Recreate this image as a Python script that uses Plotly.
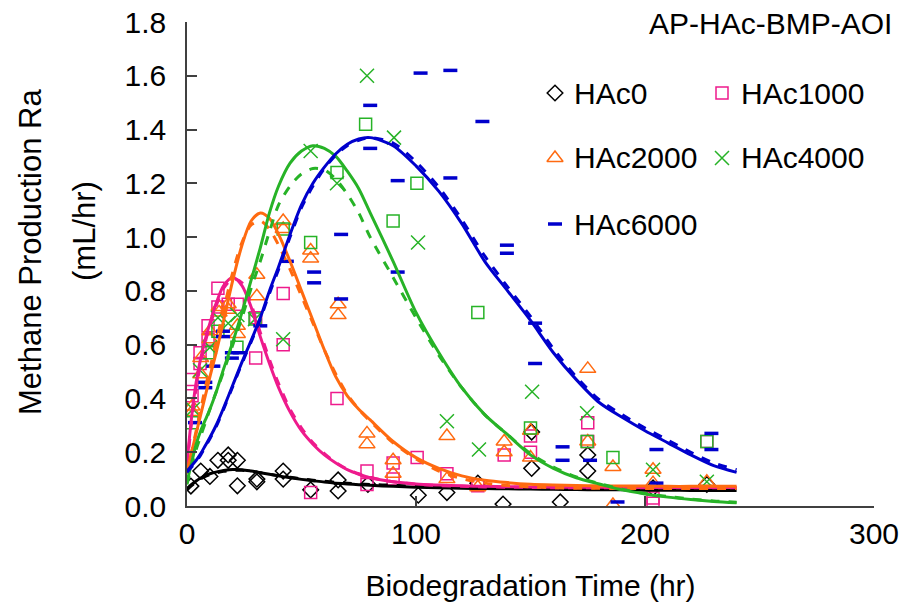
import plotly.graph_objects as go

hac0_x = [1.7, 6, 10, 13.5, 18, 18, 22, 22, 30.5, 30.5, 42, 42, 54, 66, 66, 79, 101, 113.5, 127, 138, 150.5, 150.5, 163, 175, 175, 203.5, 227]
hac0_y = [0.074, 0.13, 0.11, 0.17, 0.19, 0.17, 0.17, 0.075, 0.10, 0.09, 0.13, 0.10, 0.06, 0.097, 0.056, 0.08, 0.04, 0.05, 0.085, 0.007, 0.14, 0.275, 0.015, 0.19, 0.13, 0.067, 0.08]

hac1000_x = [2.2, 2.2, 5.7, 5.7, 9.2, 9.2, 13.5, 13.5, 18, 22, 30, 30, 42, 42, 54, 65.5, 78.6, 78.6, 90, 90, 100.5, 113.5, 127, 138.5, 150, 150, 175, 175, 203.5, 203.5, 227]
hac1000_y = [0.47, 0.41, 0.57, 0.53, 0.67, 0.62, 0.81, 0.74, 0.75, 0.75, 0.55, 0.70, 0.79, 0.60, 0.05, 0.40, 0.13, 0.08, 0.16, 0.10, 0.18, 0.12, 0.075, 0.19, 0.26, 0.20, 0.31, 0.24, 0.03, 0.01, 0.24]

hac2000_x = [2.2, 2.2, 6, 6, 10, 10, 14, 14, 18, 18, 22, 22, 30.5, 30.5, 42, 42, 54, 54, 66, 66, 78.6, 78.6, 90, 90, 113.5, 113.5, 127, 138.5, 138.5, 150, 150, 175, 175, 186, 186, 203.5, 203.5, 227]
hac2000_y = [0.37, 0.35, 0.55, 0.49, 0.65, 0.62, 0.74, 0.72, 0.75, 0.73, 0.67, 0.64, 0.86, 0.78, 1.06, 1.03, 0.95, 0.92, 0.75, 0.71, 0.27, 0.23, 0.17, 0.12, 0.26, 0.10, 0.07, 0.24, 0.20, 0.28, 0.18, 0.51, 0.24, 0.145, 0.004, 0.135, 0.085, 0.09]

hac4000_x = [2.6, 5.7, 10, 13.5, 18, 22, 29.7, 42, 54, 65.5, 78.6, 90.4, 100.9, 113.5, 127.5, 150.7, 174.7, 203.5, 227]
hac4000_y = [0.36, 0.505, 0.59, 0.70, 0.68, 0.71, 0.695, 0.62, 1.32, 1.20, 1.60, 1.37, 0.98, 0.315, 0.21, 0.425, 0.345, 0.135, 0.09]

hac4000b_x = [2.2, 9.2, 13.5, 21.8, 29.7, 42, 54, 65.5, 78, 90, 100.4, 127, 150, 174.7, 186, 227]
hac4000b_y = [0.31, 0.57, 0.65, 0.59, 0.695, 1.03, 0.98, 1.24, 1.42, 1.06, 1.20, 0.72, 0.29, 0.24, 0.18, 0.24]

hac6000_x = [3.5, 8, 8, 11.5, 15.7, 15.7, 19.6, 19.6, 23, 32, 43.6, 55.5, 55.5, 67.3, 67.3, 80, 80, 92, 92, 102, 115, 115, 129, 139.7, 139.7, 152, 152, 164, 164, 176, 188, 205, 205, 229, 229]
hac6000_y = [0.31, 0.46, 0.44, 0.52, 0.65, 0.63, 0.57, 0.55, 0.57, 0.67, 0.91, 0.87, 0.83, 1.01, 0.77, 1.49, 1.33, 1.21, 0.87, 1.61, 1.62, 1.22, 1.43, 0.97, 0.94, 0.68, 0.53, 0.22, 0.17, 0.17, 0.015, 0.21, 0.085, 0.27, 0.21]

# fitted model curves
curve_x = [0, 2, 4, 6, 8, 10, 13, 16, 20, 24, 28, 32, 36, 40, 45, 50, 55, 60, 65, 70, 75, 80, 90, 100, 110, 120, 130, 140, 150, 160, 170, 180, 190, 200, 210, 220, 230, 240]

fit0_solid = [0.065, 0.08, 0.093, 0.104, 0.113, 0.12, 0.127, 0.132, 0.136, 0.135, 0.13, 0.124, 0.118, 0.112, 0.105, 0.099, 0.094, 0.089, 0.085, 0.082, 0.079, 0.077, 0.073, 0.07, 0.068, 0.066, 0.065, 0.064, 0.063, 0.062, 0.061, 0.06, 0.06, 0.059, 0.059, 0.058, 0.058, 0.058]
fit0_dash = [0.06, 0.076, 0.09, 0.101, 0.11, 0.117, 0.124, 0.129, 0.133, 0.133, 0.129, 0.124, 0.118, 0.113, 0.107, 0.101, 0.096, 0.092, 0.088, 0.085, 0.082, 0.08, 0.077, 0.074, 0.072, 0.071, 0.07, 0.069, 0.068, 0.068, 0.067, 0.067, 0.067, 0.066, 0.066, 0.066, 0.066, 0.066]

fit1000_solid = [0.16, 0.33, 0.46, 0.55, 0.62, 0.68, 0.76, 0.82, 0.85, 0.82, 0.74, 0.63, 0.53, 0.44, 0.35, 0.28, 0.23, 0.19, 0.16, 0.135, 0.118, 0.105, 0.09, 0.082, 0.078, 0.075, 0.073, 0.072, 0.071, 0.07, 0.07, 0.07, 0.069, 0.069, 0.069, 0.069, 0.069, 0.069]
fit1000_dash = [0.15, 0.31, 0.44, 0.53, 0.61, 0.67, 0.75, 0.81, 0.845, 0.83, 0.75, 0.645, 0.545, 0.455, 0.36, 0.29, 0.235, 0.195, 0.162, 0.137, 0.12, 0.106, 0.09, 0.081, 0.076, 0.073, 0.071, 0.07, 0.069, 0.068, 0.068, 0.068, 0.068, 0.068, 0.068, 0.068, 0.068, 0.068]

fit2000_solid = [0.13, 0.2, 0.27, 0.34, 0.41, 0.48, 0.58, 0.69, 0.84, 0.97, 1.06, 1.09, 1.07, 1.01, 0.91, 0.80, 0.69, 0.58, 0.48, 0.41, 0.36, 0.32, 0.24, 0.18, 0.14, 0.112, 0.096, 0.087, 0.081, 0.078, 0.076, 0.075, 0.074, 0.074, 0.073, 0.073, 0.073, 0.073]
fit2000_dash = [0.12, 0.2, 0.28, 0.36, 0.44, 0.51, 0.62, 0.73, 0.87, 0.98, 1.045, 1.06, 1.03, 0.97, 0.88, 0.78, 0.68, 0.58, 0.49, 0.415, 0.36, 0.315, 0.235, 0.175, 0.13, 0.102, 0.085, 0.076, 0.071, 0.068, 0.066, 0.066, 0.065, 0.065, 0.065, 0.065, 0.065, 0.065]

fit4000_solid = [0.09, 0.16, 0.23, 0.28, 0.32, 0.36, 0.43, 0.51, 0.61, 0.72, 0.84, 0.96, 1.09, 1.19, 1.275, 1.32, 1.34, 1.33, 1.30, 1.245, 1.18, 1.09, 0.91, 0.72, 0.57, 0.44, 0.34, 0.265, 0.19, 0.14, 0.105, 0.082, 0.06, 0.045, 0.033, 0.024, 0.017, 0.012]
fit4000_dash = [0.08, 0.15, 0.21, 0.26, 0.31, 0.36, 0.43, 0.5, 0.6, 0.7, 0.81, 0.91, 1.02, 1.12, 1.19, 1.235, 1.255, 1.25, 1.215, 1.16, 1.09, 1.0, 0.85, 0.7, 0.56, 0.44, 0.34, 0.265, 0.195, 0.145, 0.108, 0.084, 0.062, 0.047, 0.035, 0.026, 0.019, 0.014]

fit6000_solid = [0.13, 0.15, 0.17, 0.195, 0.225, 0.255, 0.305, 0.365, 0.45, 0.535, 0.615, 0.70, 0.80, 0.89, 1.01, 1.12, 1.2, 1.26, 1.31, 1.345, 1.365, 1.37, 1.34, 1.265, 1.17, 1.05, 0.91, 0.80, 0.69, 0.57, 0.47, 0.385, 0.33, 0.28, 0.235, 0.19, 0.15, 0.125]
fit6000_dash = [0.125, 0.145, 0.165, 0.19, 0.22, 0.25, 0.30, 0.36, 0.445, 0.53, 0.61, 0.695, 0.79, 0.88, 1.0, 1.11, 1.19, 1.255, 1.305, 1.34, 1.36, 1.37, 1.35, 1.28, 1.185, 1.065, 0.93, 0.815, 0.705, 0.585, 0.48, 0.395, 0.34, 0.29, 0.245, 0.2, 0.16, 0.135]

series_names = ["HAc0", "HAc1000", "HAc2000", "HAc4000", "HAc6000"]
x_ticks = [0, 100, 200, 300]
y_ticks = [0.0, 0.2, 0.4, 0.6, 0.8, 1.0, 1.2, 1.4, 1.6, 1.8]

# ---------------- styling ----------------
FONT = "Liberation Sans, Arial, sans-serif"
FS = 30
C_BLACK = "#000000"
C_PINK = "#EE1A8C"
C_ORANGE = "#FF6A10"
C_GREEN = "#27B327"
C_BLUE = "#0000CC"

fig = go.Figure()

def add_markers(x, y, name, symbol, color, size, lw=1.5, show=False):
    fig.add_trace(go.Scatter(x=x, y=y, mode="markers", name=name, showlegend=show,
                             marker=dict(symbol=symbol, size=size, color=color,
                                         line=dict(color=color, width=lw))))

add_markers(hac0_x, hac0_y, "HAc0", "diamond-open", C_BLACK, 12)
add_markers(hac1000_x, hac1000_y, "HAc1000", "square-open", C_PINK, 12)
add_markers(hac2000_x, hac2000_y, "HAc2000", "triangle-up-open", C_ORANGE, 14)
add_markers(hac4000b_x, hac4000b_y, "HAc4000 rep", "square-open", C_GREEN, 12)
add_markers(hac4000_x, hac4000_y, "HAc4000", "x-thin-open", C_GREEN, 14)
add_markers(hac6000_x, hac6000_y, "HAc6000", "line-ew-open", C_BLUE, 10, lw=3.5)

def add_curve(y, color, dash):
    fig.add_trace(go.Scatter(x=curve_x, y=y, mode="lines", showlegend=False, hoverinfo="skip",
                             line=dict(color=color, width=3, dash=dash, shape="spline", smoothing=0.8)))

for ys, yd, c in [(fit0_solid, fit0_dash, C_BLACK), (fit1000_solid, fit1000_dash, C_PINK),
                  (fit2000_solid, fit2000_dash, C_ORANGE), (fit4000_solid, fit4000_dash, C_GREEN),
                  (fit6000_solid, fit6000_dash, C_BLUE)]:
    add_curve(yd, c, "dash")
    add_curve(ys, c, "solid")

# ---------------- geometry (page pixels; the page body has an 8px margin) ----------------
BODY = 8
L = 187; R = 874; T = 22; B = 506          # plot area on the screenshot
W = 910 - BODY; H = 608 - BODY             # figure size inside the page body
def px2fx(px): return (px - L) / (R - L)
def py2fy(py): return (B - py) / (B - T)

legend_items = [
    ("HAc0", "diamond-open", C_BLACK, 12, 1.5, 555, 93),
    ("HAc1000", "square-open", C_PINK, 12, 1.5, 722, 93),
    ("HAc2000", "triangle-up-open", C_ORANGE, 14, 1.5, 555, 158),
    ("HAc4000", "x-thin-open", C_GREEN, 14, 1.5, 722, 158),
    ("HAc6000", "line-ew-open", C_BLUE, 10, 3.5, 555, 224),
]
for name, sym, col, sz, lw, lx, ly in legend_items:
    fig.add_trace(go.Scatter(x=[px2fx(lx)], y=[py2fy(ly)], xaxis="x2", yaxis="y2", mode="markers",
                             showlegend=False, hoverinfo="skip",
                             marker=dict(symbol=sym, size=sz, color=col, line=dict(color=col, width=lw))))
    fig.add_annotation(x=px2fx(lx + 17), y=py2fy(ly), xref="paper", yref="paper", text=name,
                       showarrow=False, xanchor="left", yanchor="middle",
                       font=dict(family=FONT, size=FS, color="#000000"))

fig.add_annotation(x=px2fx(894), y=py2fy(24), xref="paper", yref="paper", text="AP-HAc-BMP-AOI",
                   showarrow=False, xanchor="right", yanchor="middle",
                   font=dict(family=FONT, size=FS, color="#000000"))

# y-axis title (two lines, first one clipped as in the source)
fig.add_annotation(x=px2fx(30), y=py2fy(252), xref="paper", yref="paper", text="Methane Production Ra",
                   showarrow=False, textangle=-90, xanchor="center", yanchor="middle",
                   font=dict(family=FONT, size=31, color="#000000"))
fig.add_annotation(x=px2fx(85), y=py2fy(231), xref="paper", yref="paper", text="(mL/hr)",
                   showarrow=False, textangle=-90, xanchor="center", yanchor="middle",
                   font=dict(family=FONT, size=31, color="#000000"))

axis_common = dict(showgrid=False, zeroline=False, showline=True, linecolor="#404040", linewidth=1.5,
                   ticks="inside", ticklen=10, tickwidth=1.5, tickcolor="#404040", automargin=False,
                   ticklabeloverflow="allow",
                   tickfont=dict(family=FONT, size=FS, color="#000000"), mirror=False)

fig.update_layout(
    width=W, height=H,
    margin=dict(l=L - BODY, r=910 - R, t=T - BODY, b=608 - B, pad=0),
    paper_bgcolor="white", plot_bgcolor="white",
    showlegend=False,
    font=dict(family=FONT, color="#000000"),
    xaxis=dict(range=[0, 300], tickvals=x_ticks, ticktext=[str(v) for v in x_ticks],
               title=dict(text="Biodegradation Time (hr)", font=dict(family=FONT, size=FS), standoff=26),
               **axis_common),
    yaxis=dict(range=[0, 1.8], tickvals=y_ticks, ticktext=[f"{v:.1f}" for v in y_ticks],
               ticklabelstandoff=13, **axis_common),
    xaxis2=dict(range=[0, 1], overlaying="x", visible=False, anchor="y2"),
    yaxis2=dict(range=[0, 1], overlaying="y", visible=False, anchor="x2"),
)

fig.write_html("out.html")
